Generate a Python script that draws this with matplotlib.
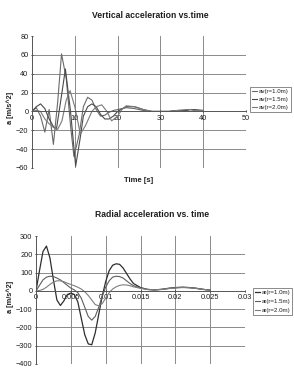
import matplotlib
matplotlib.use('Agg')
import matplotlib.pyplot as plt

plt.rcParams['font.family'] = ['Liberation Sans', 'DejaVu Sans']

# Vertical acceleration (top chart)
t1 = [0, 1, 2, 3, 4, 5, 6, 6.9, 8, 9, 9.8, 11, 12, 13, 14, 15, 16, 17, 18, 19, 20,
      22, 24, 26, 28, 30, 32, 34, 36, 37, 38, 40]
av1 = [0, 4, -5, -22, 2, -35, 10, 61, 35, -15, -48, -25, 5, 15, 12, 2, -5, -4, -1, 1, 2,
       4, 3, 1, 0, 0, 0, 1, 1, 2, 1, 1]
t2 = [0, 1, 2, 3, 4, 5, 5.7, 7, 7.8, 9, 10.2, 11.2, 12, 13, 14, 15, 16, 17, 18, 19, 20,
      22, 24, 26, 28, 30, 32, 34, 36, 37, 38, 40]
av2 = [0, 5, 8, 3, -8, -16, -19, 20, 45, 0, -58, -30, -5, 5, 8, 5, -3, -8, -8, -5, 0,
       5, 5, 2, 0, 0, 0, 1, 1, 2, 2, 1]
t3 = [0, 1, 2, 3, 4, 5, 6, 7, 8, 8.9, 10, 11.3, 12.5, 14, 15, 16.3, 17.5, 18.6, 20, 21,
      22, 24, 26, 28, 30, 32, 34, 36, 37, 38, 40]
av3 = [0, 1, 0, -8, -13, -17, -19, -10, 12, 22, 5, -24, -15, 0, 5, 7, 0, -10, -5, 2,
       6, 5, 2, 0, 0, 0, 1, 2, 2, 1, 1]
av_labels = ['av(r=1.0m)', 'av(r=1.5m)', 'av(r=2.0m)']

# Radial acceleration (bottom chart)
tr = [0, 0.0005, 0.001, 0.0015, 0.002, 0.0025, 0.003, 0.0035, 0.004, 0.0045, 0.005,
      0.0055, 0.006, 0.0065, 0.007, 0.0075, 0.008, 0.0085, 0.009, 0.0095, 0.01, 0.0105,
      0.011, 0.0115, 0.012, 0.0125, 0.013, 0.0135, 0.014, 0.015, 0.016, 0.017, 0.018,
      0.019, 0.02, 0.021, 0.022, 0.023, 0.024, 0.025]
ar1 = [0, 110, 215, 245, 180, 60, -50, -80, -55, -20, -12, -20, -60, -150, -240, -290,
       -295, -230, -130, -30, 50, 110, 140, 148, 145, 125, 95, 65, 40, 18, 8, 5, 8, 14,
       18, 20, 18, 14, 8, 4]
ar2 = [0, 30, 60, 75, 80, 78, 70, 60, 45, 30, 15, 5, -10, -40, -90, -140, -160, -140,
       -90, -30, 20, 55, 75, 80, 78, 70, 55, 40, 28, 15, 8, 6, 8, 13, 17, 19, 18, 14, 8, 4]
ar3 = [0, 2, 8, 20, 35, 48, 55, 55, 50, 42, 35, 28, 20, 10, -5, -25, -50, -75, -82, -70,
       -40, -10, 10, 22, 30, 33, 32, 28, 22, 14, 7, 5, 8, 12, 16, 18, 17, 13, 8, 4]
ar_labels = ['ar(r=1.0m)', 'ar(r=1.5m)', 'ar(r=2.0m)']

av_ticks = list(range(-60, 81, 20))
av_xticks = list(range(0, 51, 10))
ar_ticks = list(range(-400, 301, 100))
ar_xticks = [0, 0.005, 0.01, 0.015, 0.02, 0.025, 0.03]
ar_xlabels = ['0', '0.005', '0.01', '0.015', '0.02', '0.025', '0.03']

W, H = 294, 369
fig = plt.figure(figsize=(W / 100, H / 100), dpi=100)
fig.patch.set_facecolor('white')

TXT = '#1e1e1e'
GRID = '#8a8a8a'
FS = 5.3


def style_axes(ax, xticks, yticks, xlabels=None):
    for s in ['top', 'right']:
        ax.spines[s].set_visible(False)
    ax.spines['left'].set_color('#555555')
    ax.spines['left'].set_linewidth(0.7)
    ax.spines['bottom'].set_position(('data', 0))
    ax.spines['bottom'].set_color('#555555')
    ax.spines['bottom'].set_linewidth(0.7)
    ax.set_xticks(xticks)
    if xlabels is not None:
        ax.set_xticklabels(xlabels)
    ax.set_yticks(yticks)
    ax.tick_params(axis='both', labelsize=FS, colors=TXT, length=2, width=0.6,
                   direction='inout', pad=1.5)
    for y in yticks[1:-1]:
        if y != 0:
            ax.axhline(y, color=GRID, lw=0.7, zorder=0)
    for x in xticks[1:-1]:
        ax.axvline(x, color=GRID, lw=0.7, zorder=0)


def add_legend(ax, anchor, spacing):
    h, l = ax.get_legend_handles_labels()
    leg = fig.legend(h, l, loc='upper left', bbox_to_anchor=anchor,
                     fontsize=4.4, frameon=True, fancybox=False, handlelength=0.9,
                     handletextpad=0.25, borderpad=0.3, labelspacing=spacing,
                     borderaxespad=0)
    leg.get_frame().set_edgecolor('#555555')
    leg.get_frame().set_linewidth(0.6)
    for txt in leg.get_texts():
        txt.set_color(TXT)
    return leg


# ---- top chart ----
ax1 = fig.add_axes([32 / W, 1 - 168 / H, 214 / W, 132 / H])
ax1.plot(t1, av1, color='#6a6a6a', lw=0.8, label=av_labels[0])
ax1.plot(t2, av2, color='#4a4a4a', lw=0.8, label=av_labels[1])
ax1.plot(t3, av3, color='#7a7a7a', lw=0.8, label=av_labels[2])
ax1.set_xlim(0, 50)
ax1.set_ylim(-60, 80)
style_axes(ax1, av_xticks, av_ticks)
fig.text(150 / W, 1 - 15 / H, 'Vertical acceleration vs.time', ha='center', va='center',
         fontsize=6.2, fontweight='bold', color=TXT)
fig.text(139 / W, 1 - 180 / H, 'Time [s]', ha='center', va='center',
         fontsize=5.5, fontweight='bold', color=TXT)
fig.text(10 / W, 1 - 108 / H, 'a [m/s^2]', ha='center', va='center', rotation=90,
         fontsize=5.3, fontweight='bold', color=TXT)
add_legend(ax1, (250 / W, 1 - 87 / H), 0.45)

# ---- bottom chart ----
ax2 = fig.add_axes([36 / W, 1 - 364 / H, 209 / W, 128 / H])
ax2.plot(tr, ar1, color='#2e2e2e', lw=0.9, label=ar_labels[0])
ax2.plot(tr, ar2, color='#5e5e5e', lw=0.8, label=ar_labels[1])
ax2.plot(tr, ar3, color='#7e7e7e', lw=0.8, label=ar_labels[2])
ax2.set_xlim(0, 0.03)
ax2.set_ylim(-400, 300)
style_axes(ax2, ar_xticks, ar_ticks, ar_xlabels)
fig.text(152 / W, 1 - 214 / H, 'Radial acceleration vs. time', ha='center', va='center',
         fontsize=6.2, fontweight='bold', color=TXT)
fig.text(10 / W, 1 - 297 / H, 'a [m/s^2]', ha='center', va='center', rotation=90,
         fontsize=5.3, fontweight='bold', color=TXT)
add_legend(ax2, (253 / W, 1 - 288 / H), 0.6)

fig.savefig('out.png', dpi=100)
